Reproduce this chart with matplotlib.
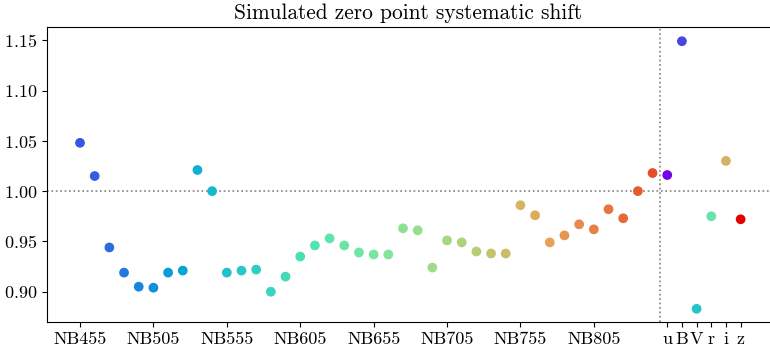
import matplotlib
matplotlib.use("Agg")
import matplotlib.pyplot as plt
import numpy as np

plt.rcParams["font.family"] = "serif"
plt.rcParams["font.serif"] = ["cmr10"]
plt.rcParams["mathtext.fontset"] = "cm"
plt.rcParams["axes.formatter.use_mathtext"] = True

# narrow band filters NB455 ... NB845
nb_names = ["NB%d" % w for w in range(455, 855, 10)]
nb_shift = [1.048, 1.015, 0.944, 0.919, 0.905, 0.904, 0.919, 0.921, 1.021, 1.000,
            0.919, 0.921, 0.922, 0.900, 0.915, 0.935, 0.946, 0.953, 0.946, 0.939,
            0.937, 0.937, 0.963, 0.961, 0.924, 0.951, 0.949, 0.940, 0.938, 0.938,
            0.986, 0.976, 0.949, 0.956, 0.967, 0.962, 0.982, 0.973, 1.000, 1.018]

# broad band filters
bb_names = ["u", "B", "V", "r", "i", "z"]
bb_shift = [1.016, 1.149, 0.883, 0.975, 1.030, 0.972]
bb_cval = [0.0, 0.10, 0.33, 0.47, 0.72, 1.0]

cmap = plt.get_cmap("rainbow")


def colours(vals):
    # slightly darkened rainbow
    c = cmap(np.asarray(vals))
    c[:, :3] *= 0.9
    return c


n_nb = len(nb_names)
x_nb = np.arange(n_nb)
x_bb = np.arange(n_nb, n_nb + len(bb_names))
nb_cval = 0.12 + 0.77 * x_nb / (n_nb - 1)

fig = plt.figure(figsize=(7.7, 3.48), dpi=100)
ax = fig.add_axes([0.061, 0.075, 0.939, 0.847])

ax.axhline(1.0, color="gray", ls=":", lw=1.2, zorder=1)
ax.axvline(n_nb - 0.5, color="gray", ls=":", lw=1.2, zorder=1)

ax.scatter(x_nb, nb_shift, c=colours(nb_cval), s=36, zorder=3)
ax.scatter(x_bb, bb_shift, c=colours(bb_cval), s=36, zorder=3)

ticks = list(x_nb[::5]) + list(x_bb)
labels = nb_names[::5] + bb_names
ax.set_xticks(ticks)
ax.set_xticklabels(labels)
ax.set_xlim(-2.25, 47.0)
ax.set_ylim(0.870, 1.163)
ax.set_yticks([0.90, 0.95, 1.00, 1.05, 1.10, 1.15])
ax.tick_params(labelsize=13)
ax.spines["right"].set_visible(False)
ax.set_title("Simulated zero point systematic shift", fontsize=15.4)

plt.savefig("out.png", dpi=100)
